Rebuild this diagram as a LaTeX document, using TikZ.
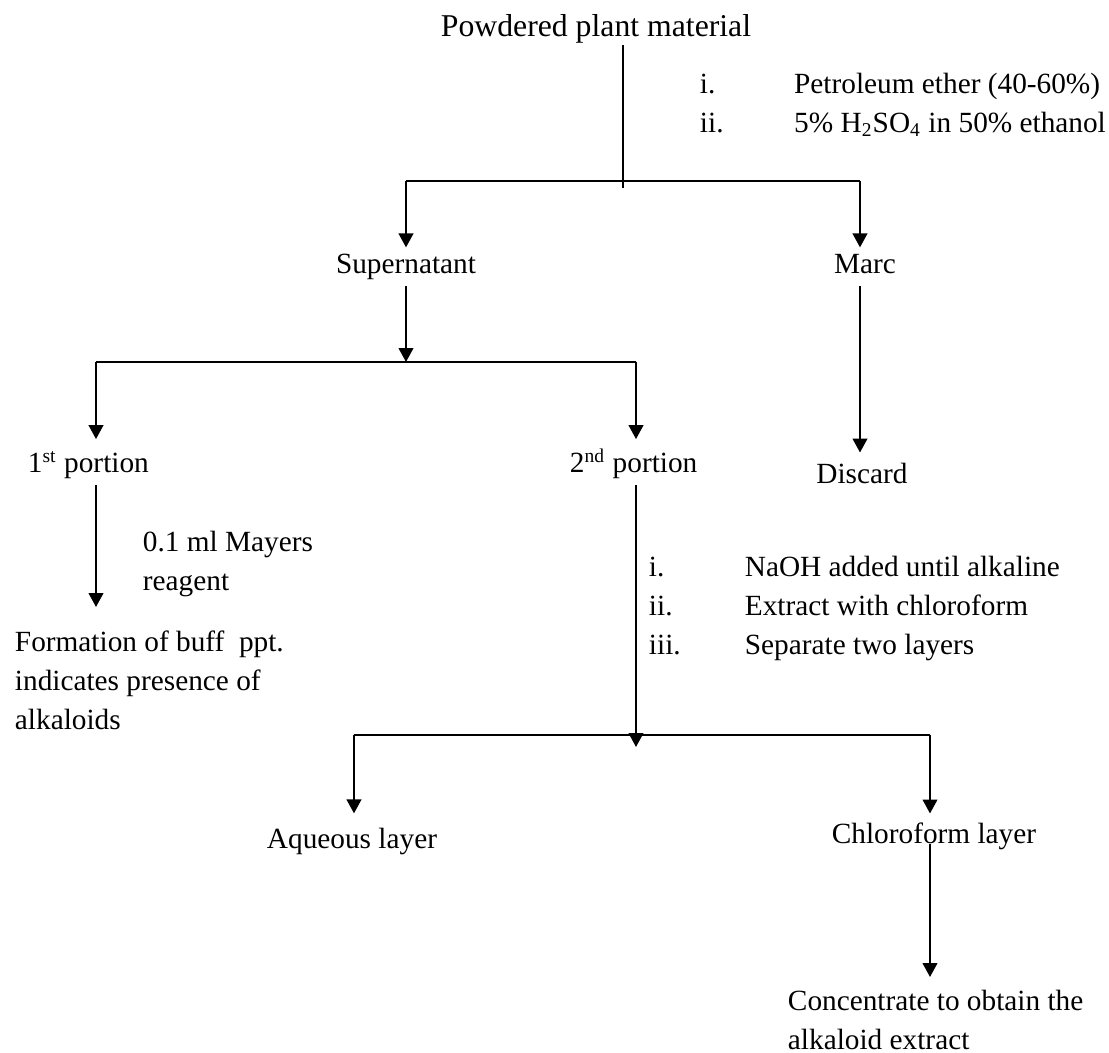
\documentclass[tikz,border=0pt]{standalone}
\usepackage{fontspec}
\setmainfont{Liberation Serif}
\usetikzlibrary{positioning,arrows.meta}
\newcommand{\flowfont}{\fontsize{12}{15.8}\selectfont}

\begin{document}
\begin{tikzpicture}[x=0.4096pt,y=-0.4096pt,>={Triangle[length=5.7pt,width=6pt]},line width=0.8pt]
  \tikzstyle{lbl}=[inner xsep=0pt,inner ysep=2pt,text height=8.5pt,text depth=2.5pt,font=\flowfont,anchor=base]
  \tikzstyle{steps}=[inner sep=0pt,font=\flowfont,anchor=base west]

  \useasboundingbox (0,0) rectangle (1109,1053);

  % texts
  \node[lbl,font=\fontsize{13}{16}\selectfont] (plant) at (596,37) {Powdered plant material};
  \node[steps] (solvents) at (699,94) {\begin{tabular}[t]{@{}p{38.6pt}@{}l@{}}
    i. & Petroleum ether (40-60\%)\\
    ii. & 5\% H\textsubscript{2}SO\textsubscript{4} in 50\% ethanol
  \end{tabular}};
  \node[lbl] (super) at (406,274) {Supernatant};
  \node[lbl] (marc) at (865,274) {Marc};
  \node[lbl,anchor=base west] (first) at (27,473) {1\textsuperscript{st} portion};
  \node[lbl,anchor=base west] (second) at (569,473) {2\textsuperscript{nd} portion};
  \node[lbl] (discard) at (862,484) {Discard};
  \node[steps] (mayers) at (142,552) {\begin{tabular}[t]{@{}l@{}}
    0.1 ml Mayers\\ reagent
  \end{tabular}};
  \node[steps] (buff) at (14,652) {\begin{tabular}[t]{@{}l@{}}
    Formation of buff~ ppt.\\ indicates presence of\\ alkaloids
  \end{tabular}};
  \node[steps] (treat) at (648,577) {\begin{tabular}[t]{@{}p{39.3pt}@{}l@{}}
    i. & NaOH added until alkaline\\
    ii. & Extract with chloroform\\
    iii. & Separate two layers
  \end{tabular}};
  \node[lbl] (aqueous) at (352,849) {Aqueous layer};
  \node[lbl] (chloro) at (934,844) {Chloroform layer};
  \node[steps] (conc) at (787,1011) {\begin{tabular}[t]{@{}l@{}}
    Concentrate to obtain the\\ alkaloid extract
  \end{tabular}};

  % junctions
  \coordinate (t1) at (623,188);
  \coordinate (a1) at (406,181);
  \coordinate (b1) at (860,181);
  \coordinate (a2) at (96,362);
  \coordinate (b2) at (636,362);
  \coordinate (e1) at (96,607);
  \coordinate (j3) at (636,747);
  \coordinate (a3) at (354,735);
  \coordinate (b3) at (930,735);
  \coordinate (e3) at (930,977);

  % first split
  \draw[line width=0.55pt,shorten <=-1.5pt] (plant.south -| t1) -- (t1);
  \draw (a1) -- (b1);
  \draw[->] (a1) -- (a1 |- super.north);
  \draw[->] (b1) -- (b1 |- marc.north);
  \draw[->] (super.south -| a1) -- (a1 |- a2);
  \draw[->,shorten >=2pt] (marc.south -| b1) -- (b1 |- discard.north);

  % second split
  \draw (a2) -- (b2);
  \draw[->,shorten >=3pt] (a2) -- (a2 |- first.north);
  \draw[->,shorten >=3pt] (b2) -- (b2 |- second.north);
  \draw[->] (first.south -| a2) -- (e1);
  \draw[->] (second.south -| b2) -- (j3);

  % layers
  \draw (a3) -- (b3);
  \draw[->,shorten >=3.7pt] (a3) -- (a3 |- aqueous.north);
  \draw[->,shorten >=1.6pt] (b3) -- (b3 |- chloro.north);
  \draw[->] (chloro.base -| b3) -- (e3);

\end{tikzpicture}
\end{document}
